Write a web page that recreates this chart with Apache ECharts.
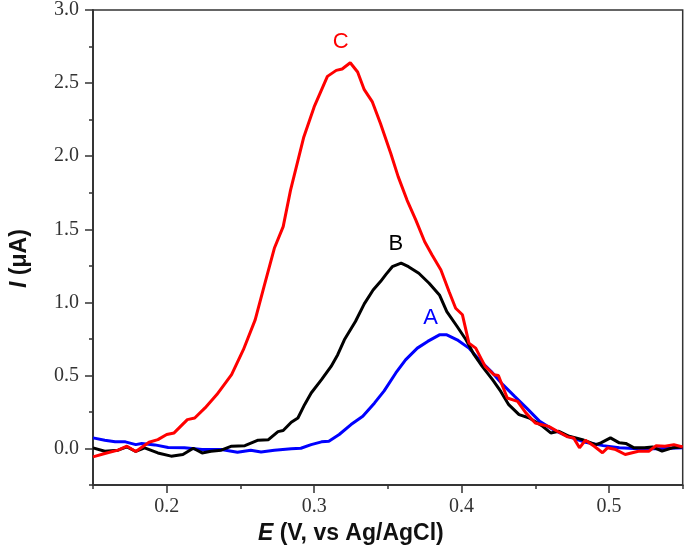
<!DOCTYPE html>
<html>
<head>
<meta charset="utf-8">
<script src="https://cdn.jsdelivr.net/npm/echarts@6/dist/echarts.min.js"></script>
<style>html,body{margin:0;padding:0;background:#fff}#c{width:685px;height:550px}</style>
</head>
<body>
<div id="c"></div>
<script>
// Curve A (blue)
var eA = [0.150,0.158,0.165,0.172,0.179,0.183,0.192,0.201,0.212,0.224,0.237,0.248,0.257,0.264,0.273,0.2845,0.291,0.298,0.305,0.310,0.317,0.325,0.333,0.341,0.3475,0.3486,0.3554,0.362,0.370,0.377,0.385,0.390,0.397,0.405,0.412,0.420,0.428,0.436,0.444,0.453,0.462,0.472,0.484,0.496,0.507,0.520,0.534,0.550];
var iA = [0.073,0.057,0.046,0.046,0.027,0.034,0.025,0.007,0.005,-0.007,-0.007,-0.025,-0.011,-0.023,-0.011,-0.002,0.002,0.027,0.046,0.050,0.096,0.164,0.221,0.312,0.395,0.403,0.517,0.607,0.687,0.733,0.778,0.778,0.744,0.687,0.607,0.528,0.437,0.357,0.278,0.186,0.130,0.084,0.043,0.020,0.005,-0.002,-0.002,0.005];
// Curve B (black)
var eB = [0.150,0.158,0.167,0.173,0.179,0.185,0.194,0.203,0.211,0.218,0.224,0.230,0.237,0.244,0.253,0.262,0.269,0.2755,0.279,0.2845,0.289,0.2935,0.298,0.305,0.3115,0.316,0.3205,0.328,0.334,0.340,0.345,0.3486,0.353,0.359,0.364,0.371,0.378,0.385,0.390,0.397,0.403,0.4085,0.414,0.421,0.4266,0.432,0.439,0.446,0.455,0.4605,0.466,0.473,0.482,0.491,0.4945,0.501,0.507,0.5114,0.517,0.524,0.5295,0.536,0.543,0.550];
var iB = [0.005,-0.018,-0.011,0.011,-0.020,0.005,-0.030,-0.052,-0.041,0.002,-0.030,-0.018,-0.011,0.016,0.020,0.057,0.061,0.116,0.123,0.180,0.209,0.300,0.380,0.471,0.562,0.642,0.744,0.869,0.990,1.085,1.142,1.190,1.244,1.268,1.244,1.199,1.131,1.051,0.937,0.835,0.744,0.642,0.562,0.471,0.391,0.300,0.232,0.209,0.152,0.107,0.118,0.084,0.061,0.027,0.039,0.073,0.039,0.035,0.005,0.005,0.011,-0.018,0.005,0.011];
// Curve C (red)
var eC = [0.150,0.158,0.167,0.173,0.179,0.188,0.194,0.200,0.205,0.214,0.219,0.226,0.234,0.244,0.252,0.260,0.266,0.273,0.279,0.284,0.293,0.300,0.309,0.315,0.319,0.3245,0.3295,0.334,0.3395,0.345,0.352,0.357,0.363,0.369,0.375,0.380,0.386,0.3915,0.396,0.4006,0.405,0.4096,0.416,0.422,0.425,0.431,0.438,0.4436,0.450,0.459,0.465,0.472,0.476,0.480,0.484,0.490,0.4956,0.499,0.5046,0.511,0.520,0.527,0.532,0.538,0.544,0.550];
var iC = [-0.057,-0.034,-0.011,0.016,-0.020,0.043,0.061,0.096,0.107,0.198,0.209,0.278,0.369,0.505,0.676,0.880,1.108,1.370,1.518,1.768,2.132,2.337,2.546,2.587,2.596,2.639,2.576,2.455,2.371,2.223,2.018,1.860,1.700,1.563,1.415,1.324,1.222,1.074,0.960,0.915,0.721,0.687,0.562,0.505,0.500,0.346,0.323,0.244,0.175,0.152,0.118,0.080,0.073,0.005,0.057,0.016,-0.029,0.005,-0.007,-0.041,-0.018,-0.018,0.020,0.016,0.027,0.011];

var seriesNames = ['A','B','C'];
var seriesColors = ['#0000ff','#000000','#ff0000'];
// annotation anchor points (data units)
var annotE = [0.379, 0.3554, 0.318];
var annotI = [0.894, 1.40, 2.78];

var xMajor = [0.2,0.3,0.4,0.5];
var xMinor = [0.15,0.25,0.35,0.45,0.55];
var yMajor = [0,0.5,1.0,1.5,2.0,2.5,3.0];
var yMinor = [-0.25,0.25,0.75,1.25,1.75,2.25,2.75];

function zip(e,i){return e.map(function(v,k){return [v,i[k]];});}
var dataSets = [zip(eA,iA), zip(eB,iB), zip(eC,iC)];

var axisColor = '#333';
var tickFont = {fontFamily:'Liberation Serif', fontSize:20, color:'#333'};

function xAx(custom, len, showLabel, showName){
  var a = {
    type:'value', position:'bottom', min:0.15, max:0.55, interval:0.05,
    axisLine:{show:true, onZero:false, lineStyle:{color:axisColor, width:1.5}},
    axisTick:{show:true, inside:false, length:len, customValues:custom, lineStyle:{color:axisColor, width:1.5}},
    axisLabel:{show:showLabel, customValues:xMajor, margin:12, formatter:function(v){return v.toFixed(1);}, fontFamily:tickFont.fontFamily, fontSize:tickFont.fontSize, color:tickFont.color},
    splitLine:{show:false}
  };
  if(showName){
    a.name = '{it|E} (V, vs Ag/AgCl)';
    a.nameLocation = 'middle';
    a.nameGap = 36;
    a.nameTextStyle = {fontFamily:'Liberation Sans', fontWeight:'bold', fontSize:23, color:'#111', padding:[0,74,0,0],
      rich:{it:{fontStyle:'italic', fontWeight:'bold', fontFamily:'Liberation Sans', fontSize:23, color:'#111'}}};
  }
  return a;
}
function yAx(custom, len, showLabel, showName){
  var a = {
    type:'value', position:'left', min:-0.25, max:3.0, interval:0.25,
    axisLine:{show:true, onZero:false, lineStyle:{color:axisColor, width:1.5}},
    axisTick:{show:true, inside:false, length:len, customValues:custom, lineStyle:{color:axisColor, width:1.5}},
    axisLabel:{show:showLabel, customValues:yMajor, margin:14, formatter:function(v){return v.toFixed(1);}, fontFamily:tickFont.fontFamily, fontSize:tickFont.fontSize, color:tickFont.color},
    splitLine:{show:false}
  };
  if(showName){
    a.name = '{it|I} (μA)';
    a.nameLocation = 'middle';
    a.nameGap = 62;
    a.nameTextStyle = {fontFamily:'Liberation Sans', fontWeight:'bold', fontSize:23, color:'#111', padding:[0,22,0,0],
      rich:{it:{fontStyle:'italic', fontWeight:'bold', fontFamily:'Liberation Sans', fontSize:23, color:'#111'}}};
  }
  return a;
}

var series = dataSets.map(function(d,k){
  return {
    name: seriesNames[k], type:'line', xAxisIndex:0, yAxisIndex:0,
    data:d, showSymbol:false, smooth:false, z: 3+k,
    lineStyle:{color:seriesColors[k], width:3},
    itemStyle:{color:seriesColors[k]},
    markPoint:{
      symbol:'circle', symbolSize:0, silent:true, animation:false,
      label:{show:true, position:'inside', formatter:seriesNames[k], fontFamily:'Liberation Sans', fontSize:22, color:seriesColors[k]},
      data:[{coord:[annotE[k], annotI[k]], value:seriesNames[k]}]
    }
  };
});

var chart = echarts.init(document.getElementById('c'), null, {renderer:'canvas'});
chart.setOption({
  animation:false,
  backgroundColor:'#fff',
  grid:{left:91.7, right:2.3, top:10, bottom:64, show:true, borderColor:axisColor, borderWidth:1.5, containLabel:false},
  xAxis:[xAx(xMajor, 8, true, true), xAx(xMinor, 4, false, false)],
  yAxis:[yAx(yMajor, 8, true, true), yAx(yMinor, 4, false, false)],
  series: series
});
</script>
</body>
</html>
